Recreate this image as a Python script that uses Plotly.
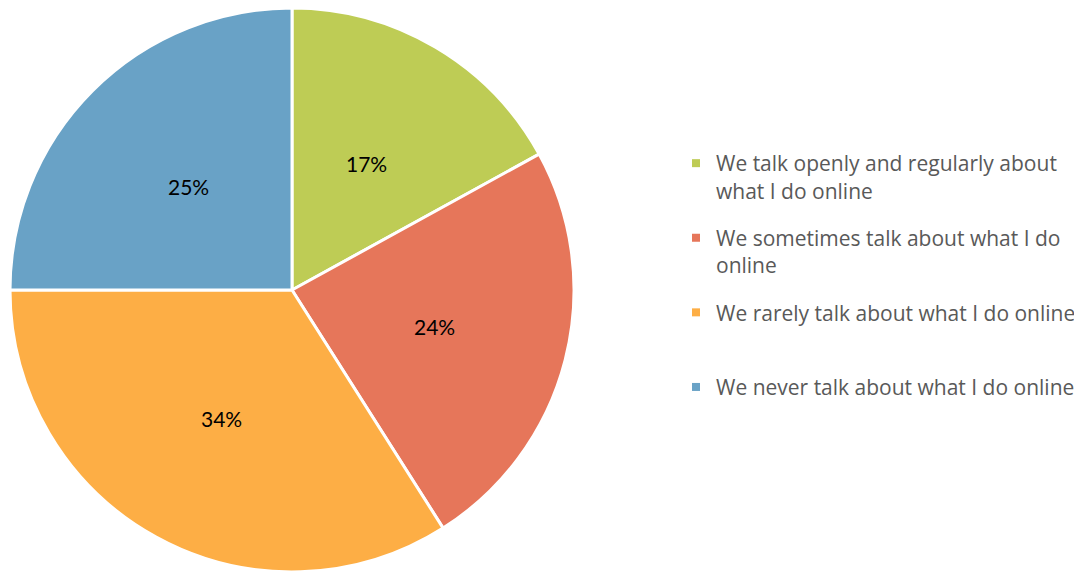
import math
import plotly.graph_objects as go

categories = [
    "We talk openly and regularly about<br>what I do online",
    "We sometimes talk about what I do<br>online",
    "We rarely talk about what I do online<br> ",
    "We never talk about what I do online<br> ",
]
values = [17, 24, 34, 25]
colors = ["#BECC55", "#E6765A", "#FDAE45", "#69A2C6"]

W, H = 1082, 571
# the page body adds an 8px margin; geometry below is in figure pixels
cx, cy, r = 284, 282, 282
label_frac = 0.52

fig = go.Figure()
fig.add_trace(go.Pie(
    labels=categories,
    values=values,
    sort=False,
    direction="clockwise",
    rotation=0,
    marker=dict(colors=colors, line=dict(color="white", width=3)),
    textinfo="none",
    domain=dict(x=[(cx - r) / W, (cx + r) / W], y=[(H - cy - r) / H, (H - cy + r) / H]),
    hoverinfo="label+percent",
    showlegend=False,
))

# percentage labels placed along each slice bisector
total = sum(values)
cum = 0
for v in values:
    mid = (cum + v / 2) / total * 2 * math.pi
    cum += v
    px = cx + label_frac * r * math.sin(mid)
    py = cy - label_frac * r * math.cos(mid)
    fig.add_annotation(
        x=px / W, y=1 - py / H, xref="paper", yref="paper",
        text=f"{round(v / total * 100)}%", showarrow=False,
        font=dict(family="Lato", size=21, color="black"),
        xanchor="center", yanchor="middle",
    )

# legend entries
for i, (lab, col) in enumerate(zip(categories, colors)):
    fig.add_trace(go.Scatter(
        x=[None], y=[None], mode="markers", name=lab,
        marker=dict(symbol="square", size=8, color=col),
        legendgroup=f"g{i}", showlegend=True, hoverinfo="skip",
    ))

fig.update_layout(
    width=W, height=H,
    margin=dict(l=0, r=0, t=0, b=0),
    paper_bgcolor="white",
    plot_bgcolor="white",
    xaxis=dict(visible=False),
    yaxis=dict(visible=False),
    showlegend=True,
    legend=dict(
        x=668 / W, xanchor="left",
        y=1 - 135 / H, yanchor="top",
        font=dict(family="Open Sans", size=21, color="#595959"),
        valign="top",
        bgcolor="rgba(0,0,0,0)",
        traceorder="grouped",
        tracegroupgap=17,
    ),
)

fig.write_html("out.html")
